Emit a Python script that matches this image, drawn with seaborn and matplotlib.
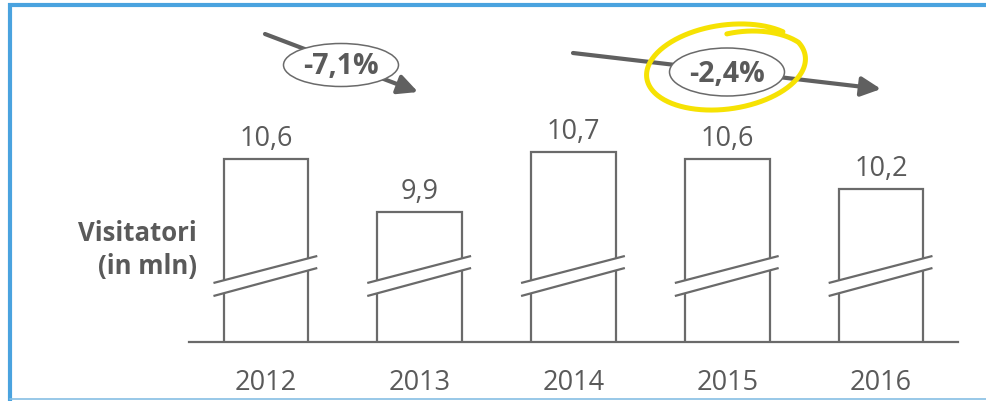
import numpy as np
import pandas as pd
import seaborn as sns
import matplotlib
matplotlib.use("Agg")
import matplotlib.pyplot as plt
from matplotlib.patches import Ellipse, Polygon
from matplotlib.transforms import blended_transform_factory

# Data
years = ["2012", "2013", "2014", "2015", "2016"]
visitors = [10.6, 9.9, 10.7, 10.6, 10.2]
change_labels = ["-7,1%", "-2,4%"]
axis_title = "Visitatori\n(in mln)"

sns.set_theme(style="white")
plt.rcParams["font.family"] = ["Open Sans", "DejaVu Sans"]

TEXT = "#5a5a5a"
EDGE = "#6a6a6a"
ARROW = "#606060"
BLUE = "#4aa3df"
LIGHT_BLUE = "#86bfe4"
YELLOW = "#f6e203"

W, H = 986, 402
fig = plt.figure(figsize=(W / 100, H / 100), dpi=100)
fig.patch.set_facecolor("white")


def rect(x0, y0, x1, y1):
    """Figure-fraction rectangle from pixel edges measured from the top-left."""
    return [x0 / W, 1 - y1 / H, (x1 - x0) / W, (y1 - y0) / H]


# Main bar axes (broken value axis starting above zero)
ax = fig.add_axes(rect(189, 20, 958, 343))
df = pd.DataFrame({"year": years, "visitors": visitors})
sns.barplot(data=df, x="year", y="visitors", color="white", saturation=1,
            edgecolor=EDGE, linewidth=1.6, width=0.55, ax=ax, zorder=2)
ax.set_xlim(-0.5, 4.5)
ax.set_ylim(8.16, 12.47)
ax.set_xlabel("")
ax.set_ylabel("")
ax.set_yticks([])
ax.tick_params(axis="x", length=0, pad=19, labelsize=19.5, labelcolor=TEXT)
for side in ["left", "top", "right"]:
    ax.spines[side].set_visible(False)
ax.spines["bottom"].set_color(EDGE)
ax.spines["bottom"].set_linewidth(1.6)
ax.patch.set_alpha(0)

ax.bar_label(ax.containers[0],
             labels=[f"{v:.1f}".replace(".", ",") for v in visitors],
             padding=5, fontsize=19.5, color=TEXT)

# Axis-break marks across every bar
brk = blended_transform_factory(ax.transData, ax.transAxes)
for i in range(len(years)):
    xl, xr = i - 0.341, i + 0.334
    lo_l, lo_r, hi_l, hi_r = 0.1424, 0.2291, 0.1827, 0.2663
    ax.add_patch(Polygon([(xl, lo_l), (xr, lo_r), (xr, hi_r), (xl, hi_l)],
                         closed=True, facecolor="white", edgecolor="none",
                         transform=brk, zorder=3))
    ax.plot([xl, xr], [lo_l, lo_r], color=EDGE, lw=1.6, transform=brk,
            zorder=4, solid_capstyle="butt")
    ax.plot([xl, xr], [hi_l, hi_r], color=EDGE, lw=1.6, transform=brk,
            zorder=4, solid_capstyle="butt")

# Overlay in pixel coordinates for frame, arrows and notes
ov = fig.add_axes([0, 0, 1, 1])
ov.set_xlim(0, W)
ov.set_ylim(H, 0)
ov.axis("off")
ov.patch.set_alpha(0)
ov.set_zorder(3)

ov.plot([10, 10], [4, H], color=BLUE, lw=3, solid_capstyle="butt", clip_on=False)
ov.plot([8, W], [6, 6], color=BLUE, lw=3, solid_capstyle="butt", clip_on=False)
ov.plot([10, W], [400, 400], color=LIGHT_BLUE, lw=1.2, clip_on=False)

ov.text(197, 250, axis_title, ha="right", va="center", multialignment="right",
        fontsize=18.5, fontweight="bold", color=TEXT, linespacing=1.25)

arrow_style = "-|>,head_length=0.85,head_width=0.42"
for start, tip in [((265, 35), (418, 93)), ((573, 54), (881, 90))]:
    ov.annotate("", xy=tip, xytext=start, xycoords="data",
                arrowprops=dict(arrowstyle=arrow_style, color=ARROW, lw=3,
                                shrinkA=0, shrinkB=0, mutation_scale=14))

for (cx, cy, w, h), lab in zip([(341, 66, 115, 43), (727, 73, 115, 48)],
                               change_labels):
    ov.add_patch(Ellipse((cx, cy), w, h, facecolor="white", edgecolor=EDGE,
                         lw=1.1, zorder=3))
    ov.text(cx, cy + 1, lab, ha="center", va="center", fontsize=20.5,
            fontweight="bold", color=TEXT, zorder=4)

# Hand-drawn highlight loop around the second change
t = np.radians(np.linspace(40, 445, 300))
scale = np.where(t <= np.radians(380), 1.0,
                 1.0 - 0.22 * (t - np.radians(380)) / np.radians(65))
phi = np.radians(8)
a = scale * 80 * np.cos(t)
b = scale * 42 * np.sin(t)
lx = 726 + np.cos(phi) * a - np.sin(phi) * b
ly = 68 - (np.sin(phi) * a + np.cos(phi) * b)
ov.plot(lx, ly, color=YELLOW, lw=3.6, solid_capstyle="round", zorder=5)

fig.savefig("out.png", dpi=100, facecolor="white")
